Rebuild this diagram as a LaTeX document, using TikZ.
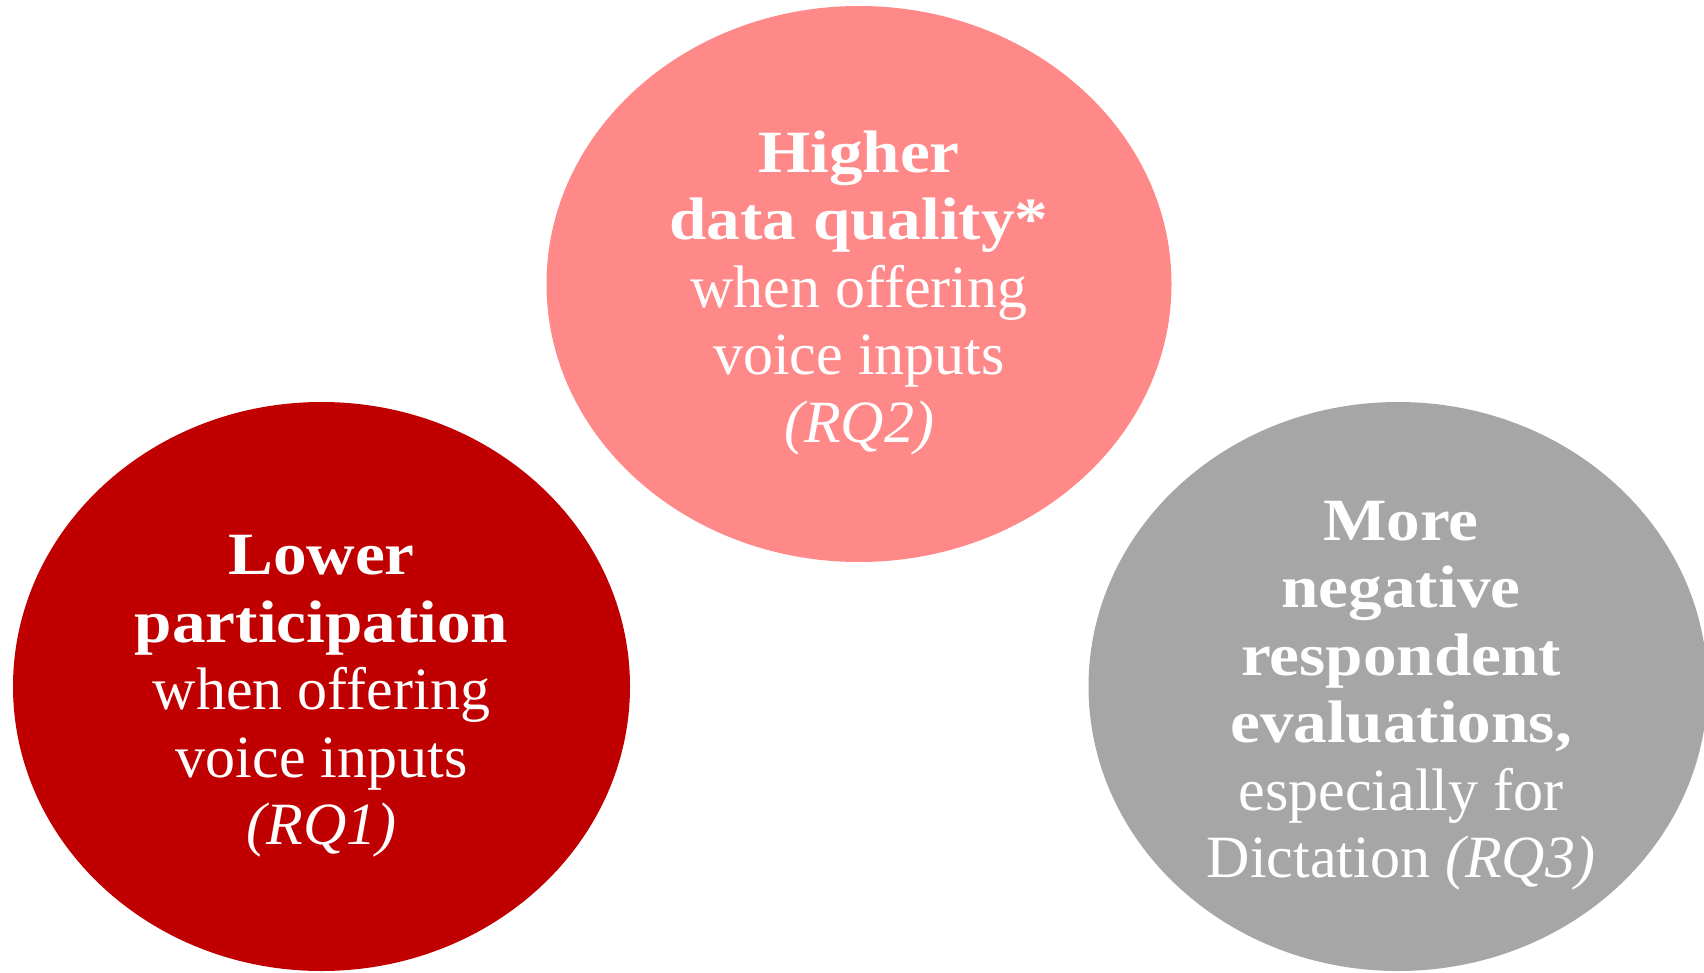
\documentclass[tikz,border=0pt]{standalone}
\usepackage{fontspec}
\setmainfont{Liberation Serif}[BoldFeatures={FakeStretch=1.12}]
\usetikzlibrary{shapes.geometric,calc}
\definecolor{darkred}{HTML}{C00000}
\definecolor{salmon}{HTML}{FF8989}
\definecolor{midgray}{HTML}{A6A6A6}
\begin{document}
\begin{tikzpicture}[x=1pt,y=-1pt,
  blob/.style={ellipse, draw=none, inner sep=0pt},
  lbl/.style={text=white, align=center, inner sep=0pt,
    font=\fontsize{60}{67.5}\selectfont}]
\useasboundingbox (0,0) rectangle (1704,973);
\node[blob, fill=salmon, minimum width=625pt, minimum height=556pt] (rq2) at (859,284) {};
\node[blob, fill=darkred, minimum width=617pt, minimum height=569pt] (rq1) at (321.5,686.5) {};
\node[blob, fill=midgray, minimum width=619pt, minimum height=569pt] (rq3) at (1398,686.5) {};
\node[lbl] (t2) at ($(rq2)+(0,9)$) {\textbf{Higher}\\\textbf{data quality*}\\when offering\\voice inputs\\\textit{(RQ2)}};
\node[lbl] (t1) at ($(rq1)+(0,10)$) {\textbf{Lower}\\\textbf{participation}\\when offering\\voice inputs\\\textit{(RQ1)}};
\node[lbl] (t3) at ($(rq3)+(3,9)$) {\textbf{More}\\\textbf{negative}\\\textbf{respondent}\\\textbf{evaluations,}\\especially for\\Dictation \textit{(RQ3)}};
\end{tikzpicture}
\end{document}
